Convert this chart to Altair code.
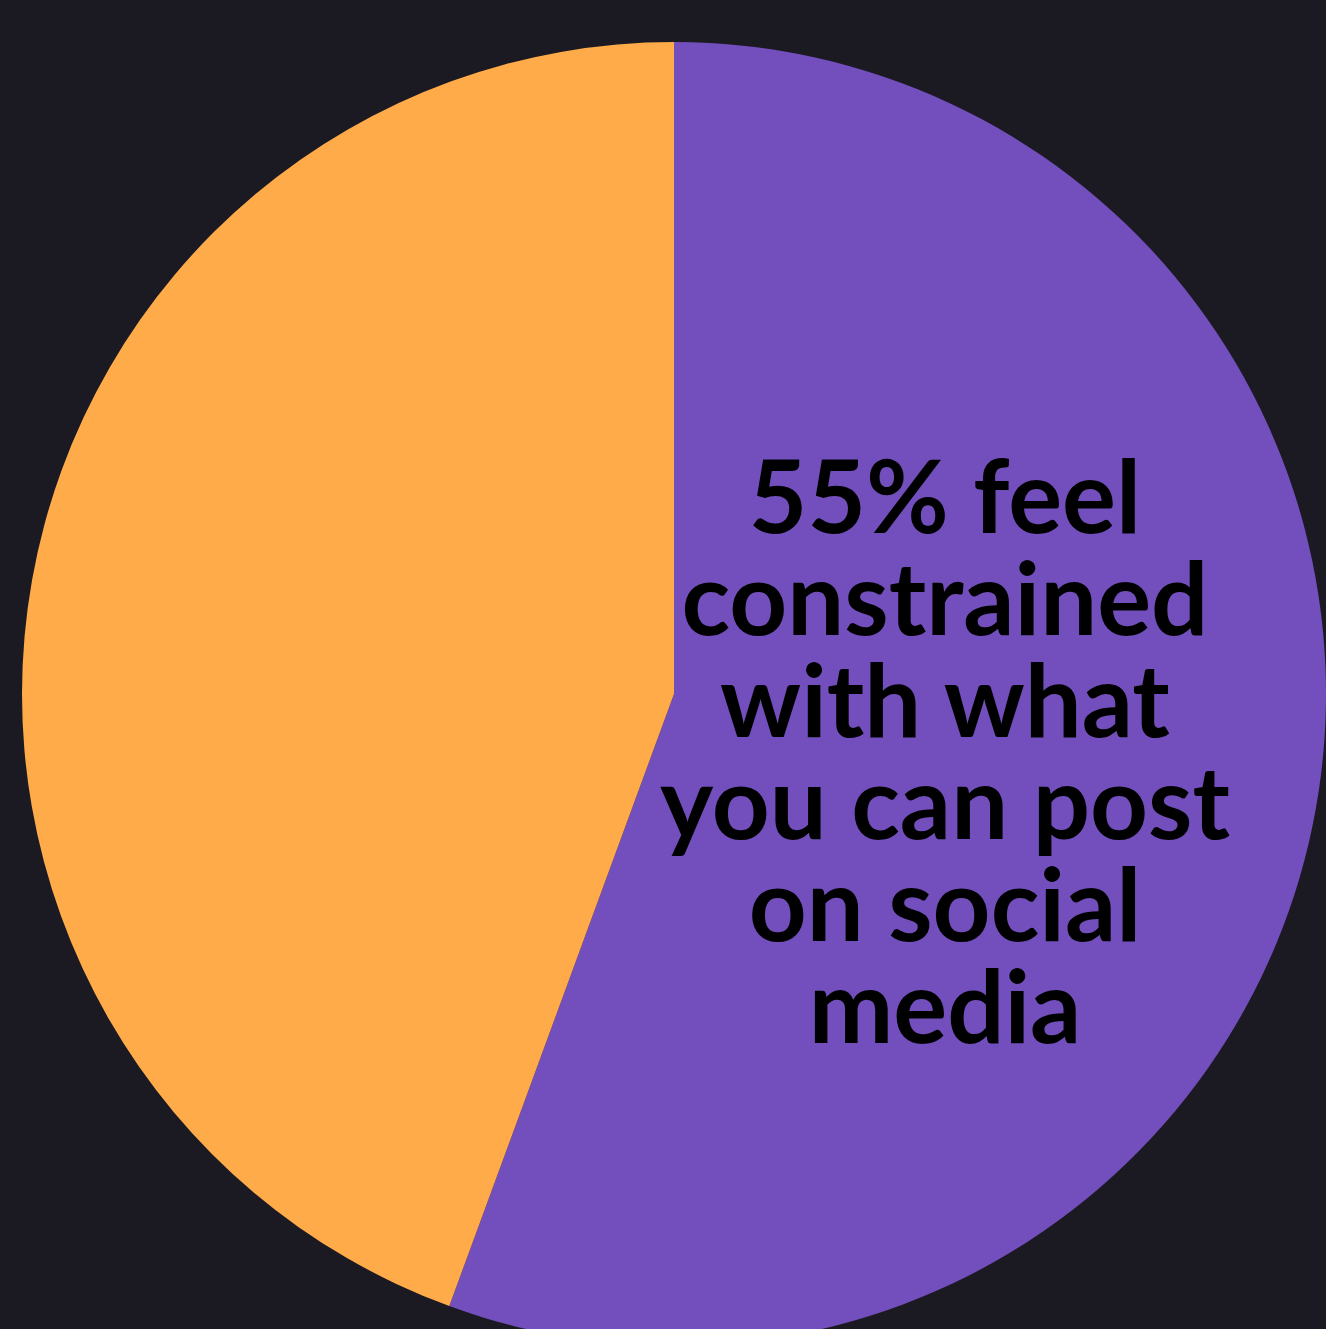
import altair as alt
import pandas as pd

categories = ["Feel constrained", "Do not feel constrained"]
values = [55.6, 44.4]
colors = ["#734FBE", "#FFAB4A"]
label_lines = ["55% feel", "constrained", "with what", "you can post", "on social", "media"]

df = pd.DataFrame({"category": categories, "value": values, "order": [0, 1]})

pie = alt.Chart(df).mark_arc(radius=652).encode(
    theta=alt.Theta("value:Q", stack=True),
    color=alt.Color("category:N", scale=alt.Scale(domain=categories, range=colors), legend=None),
    order=alt.Order("order:Q"),
    x=alt.value(674),
    y=alt.value(694),
)

label = alt.Chart(pd.DataFrame({"t": [label_lines]})).mark_text(
    font="Lato", fontSize=101, fontWeight="bold", color="#000000",
    align="center", baseline="alphabetic", lineHeight=102,
).encode(text="t", x=alt.value(945), y=alt.value(533))

chart = alt.layer(pie, label).properties(
    width=1326, height=1329, background="#1B1A22", padding=0,
    autosize=alt.AutoSizeParams(type="none"),
).configure_view(stroke=None)

chart.save("out.html", embed_options={"renderer": "svg", "actions": False,
                                      "defaultStyle": "body{margin:0;background:#1B1A22;overflow:hidden}"})
